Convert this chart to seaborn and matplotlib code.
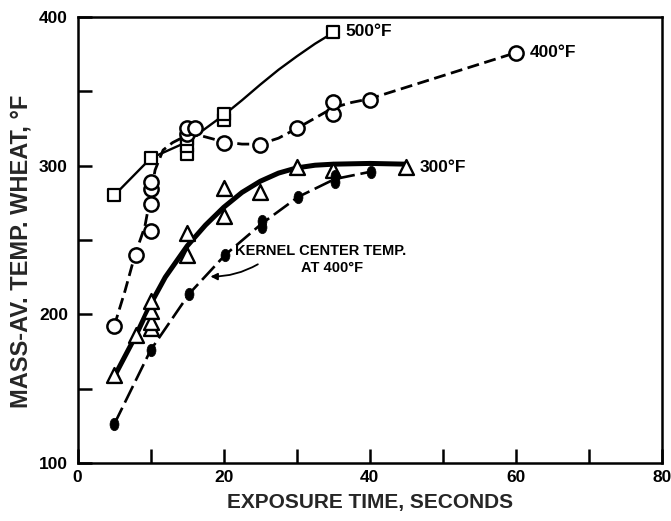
import numpy as np
import pandas as pd
import matplotlib
matplotlib.use("Agg")
import matplotlib.pyplot as plt
from matplotlib.path import Path
import seaborn as sns

# ---- measured points -------------------------------------------------------
# 500 F air (squares)
sq_x = [5, 10, 15, 15, 15, 20, 20, 35]
sq_y = [280, 305, 308, 313, 318, 331, 335, 390]

# 400 F air (open circles)
ci_x = [5, 8, 10, 10, 10, 10, 15, 15, 16, 20, 25, 30, 35, 35, 40, 60]
ci_y = [192, 240, 256, 274, 284, 289, 321, 325, 325, 315, 314, 325, 335, 343, 344, 376]

# 300 F air (triangles)
tr_x = [5, 8, 10, 10, 10, 10, 15, 15, 20, 20, 25, 30, 35, 45]
tr_y = [159, 186, 191, 195, 202, 209, 240, 255, 266, 285, 282, 299, 297, 299]

# kernel centre temperature at 400 F (filled)
kc_x = [5, 10, 15.3, 20.2, 25.2, 25.2, 30.2, 35.2, 35.2, 40.2]
kc_y = [126, 176, 214, 240, 259, 263, 279, 289, 293, 296]

# ---- faired curves ---------------------------------------------------------
c500_x = [5, 10, 15, 20, 22.5, 25, 27.5, 30, 32.5, 35]
c500_y = [280, 305, 316, 334, 344, 354.5, 364.5, 373.5, 382, 389.5]

c400_x = [5, 6.5, 7.85, 9.2, 10, 10.6, 11.7, 13, 14.2, 15.5, 17, 20,
          22.5, 25, 27.5, 30, 32.5, 35, 37.5, 40, 60]
c400_y = [192, 216, 240, 259, 280, 297, 310.5, 315.5, 318.5, 320.5, 320, 316,
          314.5, 314.5, 318.5, 325, 332, 339, 342.5, 345, 376]

c300_x = [5, 8, 10, 12, 15, 17.5, 20, 22.5, 25, 27.5, 30, 32.5, 35, 40, 45]
c300_y = [158, 186, 207, 225, 246, 260, 272, 282, 289.5, 295, 298.5, 300.3,
          301, 301.5, 301]

ckc_x = [5, 10, 15.3, 20.2, 25.2, 30.2, 35.2, 40.2]
ckc_y = [126, 176, 214, 240, 261, 279, 291, 296]

x_ticks = [0, 10, 20, 30, 40, 50, 60, 70, 80]
x_ticklabels = ["0", "", "20", "", "40", "", "60", "", "80"]
y_ticks = [100, 150, 200, 250, 300, 350, 400]
y_ticklabels = ["100", "", "200", "", "300", "", "400"]

# ---- style -----------------------------------------------------------------
sns.set_style("ticks")
plt.rcParams["font.family"] = ["Liberation Sans", "DejaVu Sans"]
plt.rcParams["font.weight"] = "bold"

fig = plt.figure(figsize=(6.71, 5.21), dpi=100)
ax = fig.add_axes([0.1157, 0.1113, 0.8709, 0.8561])

K = "black"

sns.lineplot(x=c500_x, y=c500_y, ax=ax, sort=False, estimator=None,
             color=K, lw=1.7, zorder=2)
sns.lineplot(x=c400_x, y=c400_y, ax=ax, sort=False, estimator=None,
             color=K, lw=2.0, zorder=2, dashes=False, linestyle=(0, (4.3, 2.0)))
sns.lineplot(x=c300_x, y=c300_y, ax=ax, sort=False, estimator=None,
             color=K, lw=3.6, zorder=2)
sns.lineplot(x=ckc_x, y=ckc_y, ax=ax, sort=False, estimator=None,
             color=K, lw=1.9, zorder=2, dashes=False, linestyle=(0, (7, 2.2)))

# upright ellipse for the kernel-centre points
ell = Path.unit_circle()
ell = Path(ell.vertices * np.array([0.72, 1.0]), ell.codes)

sns.scatterplot(x=sq_x, y=sq_y, ax=ax, marker="s", s=80, color="white",
                edgecolor=K, linewidth=1.6, zorder=4)
sns.scatterplot(x=ci_x, y=ci_y, ax=ax, marker="o", s=105, color="white",
                edgecolor=K, linewidth=1.8, zorder=4)
sns.scatterplot(x=tr_x, y=tr_y, ax=ax, marker="^", s=115, color="white",
                edgecolor=K, linewidth=1.7, zorder=4)
sns.scatterplot(x=kc_x, y=kc_y, ax=ax, marker=ell, s=80, color=K,
                edgecolor=K, linewidth=0.5, zorder=4)

# curve labels
lab = dict(fontsize=12.5, fontweight="bold", va="center", ha="left", color=K)
ax.text(36.6, 390, "500°F", **lab)
ax.text(61.9, 376, "400°F", **lab)
ax.text(46.8, 298.5, "300°F", **lab)

ax.text(33.3, 242.6, "KERNEL CENTER TEMP.", fontsize=10.5,
        fontweight="bold", ha="center", va="center", color=K)
ax.text(34.8, 231.0, "AT 400°F", fontsize=10.5, fontweight="bold",
        ha="center", va="center", color=K)
ax.annotate("", xy=(17.8, 225.5), xytext=(25.0, 234.6),
            arrowprops=dict(arrowstyle="-|>", color=K, lw=1.3,
                            mutation_scale=10,
                            connectionstyle="arc3,rad=-0.15"))

# axes
ax.set_xlim(0, 80)
ax.set_ylim(100, 400)
ax.set_xticks(x_ticks)
ax.set_xticklabels(x_ticklabels)
ax.set_yticks(y_ticks)
ax.set_yticklabels(y_ticklabels)
ax.tick_params(direction="in", length=10, width=1.8, labelsize=12.5,
               colors=K)
ax.tick_params(axis="y", pad=7)
ax.tick_params(axis="x", pad=5)
for lbl in ax.get_xticklabels() + ax.get_yticklabels():
    lbl.set_fontweight("bold")
for sp in ax.spines.values():
    sp.set_visible(True)
    sp.set_linewidth(1.8)
    sp.set_color(K)

ax.set_xlabel("EXPOSURE TIME, SECONDS", fontsize=15, fontweight="bold",
              labelpad=6)
ax.set_ylabel("MASS-AV. TEMP. WHEAT, °F", fontsize=17, fontweight="bold")
ax.yaxis.set_label_coords(-0.078, 0.475)

fig.savefig("out.png", dpi=100, facecolor="white")
